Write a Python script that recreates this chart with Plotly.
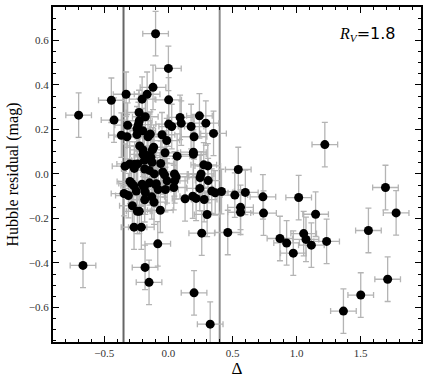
import plotly.graph_objects as go

# Delta (x) and Hubble residual (y)
delta = [
    -0.70, -0.10, 0.00, -0.445, -0.33, -0.424, -0.12, -0.166, -0.205, 0.002,
    -0.229, -0.18, -0.227, -0.234, -0.318, -0.245, -0.367, -0.323, -0.245, -0.20,
    -0.159, -0.141, -0.224, -0.05, -0.013, 0.002, 0.026, 0.091, 0.10, 0.177,
    0.242, 0.292, 0.20, 0.352, -0.198, -0.166, -0.125, -0.115, -0.026, -0.136,
    -0.198, -0.187, -0.127, -0.06, 0.068, 0.195, 0.195, 0.276, 0.307, -0.338,
    -0.302, -0.263, -0.24, -0.266, -0.185, -0.148, -0.11, -0.044, -0.03, 0.047,
    0.06, 0.255, 0.247, 0.31, 0.545, -0.30, -0.287, -0.205, -0.148, -0.094,
    -0.27, -0.346, -0.312, -0.25, -0.188, -0.18, -0.099, -0.08, -0.023, -0.01,
    0.042, 0.049, -0.13, -0.112, -0.185, -0.281, -0.242, -0.227, -0.063, -0.268,
    -0.211, -0.083, -0.666, -0.182, -0.151, 0.20, 0.326, 0.13, 0.19, 0.216,
    0.279, 0.338, 0.365, 0.414, 0.518, 0.302, 0.26, 0.463, 0.245, 0.60,
    0.5625, 0.5625, 0.737, 0.742, 1.016, 1.148, 0.87, 0.922, 0.974, 1.055,
    1.073, 1.115, 1.234, 1.693, 1.776, 1.56, 1.71, 1.50, 1.365, 1.22,
]
resid = [
    0.264, 0.63, 0.474, 0.331, 0.358, 0.242, 0.389, 0.358, 0.336, 0.333,
    0.276, 0.257, 0.239, 0.222, 0.219, 0.203, 0.174, 0.167, 0.177, 0.194,
    0.167, 0.179, 0.126, 0.176, 0.15, 0.224, 0.213, 0.254, 0.228, 0.213,
    0.261, 0.228, 0.167, 0.182, 0.108, 0.083, 0.108, 0.12, 0.095, 0.074,
    0.088, 0.061, 0.052, 0.047, 0.08, 0.098, 0.088, 0.041, 0.036, 0.035,
    0.045, 0.044, 0.045, 0.025, 0.022, 0.016, 0.0, 0.009, -0.004, 0.0,
    -0.013, 0.0, -0.016, -0.03, 0.02, -0.034, -0.043, -0.046, -0.04, -0.044,
    -0.053, -0.088, -0.097, -0.077, -0.061, -0.082, -0.049, -0.07, -0.07, -0.031,
    -0.061, -0.031, -0.103, -0.127, -0.116, -0.143, -0.168, -0.168, -0.163, -0.239,
    -0.239, -0.314, -0.411, -0.42, -0.487, -0.534, -0.675, -0.112, -0.10, -0.11,
    -0.115, -0.077, -0.085, -0.079, -0.095, -0.182, -0.266, -0.263, -0.065, -0.083,
    -0.15, -0.172, -0.103, -0.176, -0.106, -0.181, -0.29, -0.31, -0.356, -0.268,
    -0.294, -0.32, -0.303, -0.061, -0.175, -0.254, -0.473, -0.544, -0.616, 0.132,
]
delta_err = 0.1
resid_err = 0.1

cut_low = -0.35
cut_high = 0.40

serif = "Liberation Serif"

fig = go.Figure()
fig.add_trace(go.Scatter(
    x=delta, y=resid, mode="markers",
    marker=dict(color="black", size=9, line=dict(width=0)),
    error_x=dict(type="constant", value=delta_err, color="#b4b4b4", thickness=1.3, width=3),
    error_y=dict(type="constant", value=resid_err, color="#b4b4b4", thickness=1.3, width=3),
    showlegend=False,
))

# vertical cut lines
fig.add_shape(type="line", x0=cut_low, x1=cut_low, y0=0, y1=1, yref="paper",
              line=dict(color="#666666", width=2), layer="below")
fig.add_shape(type="line", x0=cut_high, x1=cut_high, y0=0, y1=1, yref="paper",
              line=dict(color="#8c8c8c", width=2), layer="below")

fig.add_annotation(x=0.935, y=0.92, xref="paper", yref="paper",
                   xanchor="right", yanchor="middle", showarrow=False,
                   text="<i>R</i><sub><i>V</i></sub><span style='font-family:DejaVu Sans'>=1.8</span>",
                   font=dict(family=serif, size=16, color="black"))

axis_common = dict(
    showgrid=False, zeroline=False, showline=True, linecolor="black", linewidth=2,
    mirror="allticks", ticks="inside", ticklen=6, tickcolor="black", tickwidth=1,
    tickfont=dict(family=serif, size=11, color="#333333"), automargin=False,
)

fig.update_xaxes(range=[-0.9, 1.97], dtick=0.5, tick0=0, tickformat=".1f",
                 minor=dict(ticks="inside", dtick=0.1, ticklen=3, tickcolor="black"),
                 title=dict(text="Δ", font=dict(family=serif, size=17, color="black"), standoff=2),
                 **axis_common)
fig.update_yaxes(range=[-0.755, 0.75], dtick=0.2, tick0=0, tickformat=".1f",
                 minor=dict(ticks="inside", dtick=0.05, ticklen=3, tickcolor="black"),
                 title=dict(text="Hubble residual (mag)",
                            font=dict(family=serif, size=16, color="black"), standoff=6),
                 **axis_common)

fig.update_layout(
    width=429, height=383,
    margin=dict(l=53, r=8, t=7, b=41),
    plot_bgcolor="white", paper_bgcolor="white",
)

# page body margin off so the figure sits at the window's corner
fig.write_html("out.html", config={"displayModeBar": False},
               post_script="document.body.style.margin='0';")
